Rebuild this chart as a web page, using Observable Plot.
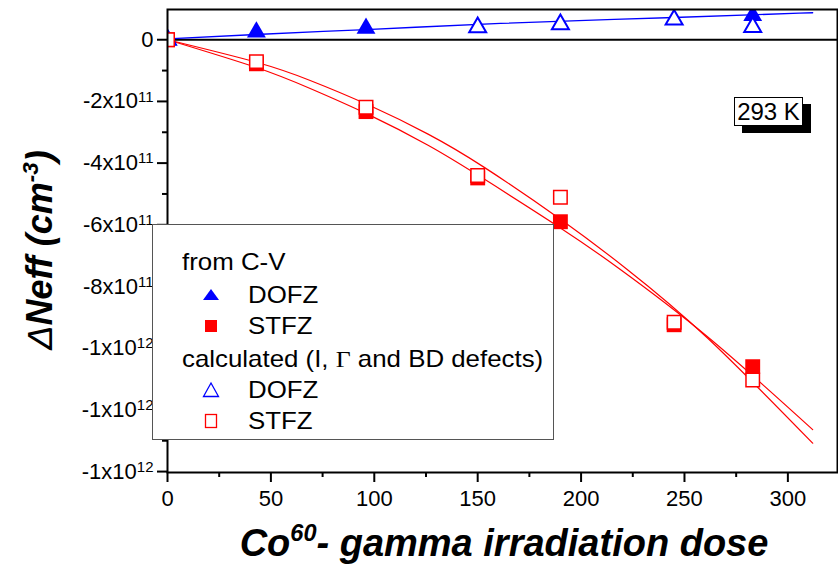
<!DOCTYPE html>
<html><head><meta charset="utf-8">
<script src="https://cdn.jsdelivr.net/npm/d3@7"></script>
<script src="https://cdn.jsdelivr.net/npm/@observablehq/plot@0.6"></script>
<style>
body{margin:0;background:#fff;font-family:Arial,"Liberation Sans",sans-serif}
#wrap{position:relative;width:838px;height:564px;overflow:hidden;background:#fff}
.ov{position:absolute;white-space:nowrap;line-height:1;color:#000;font-family:Arial,"Liberation Sans",sans-serif}
.title{font-weight:bold;font-style:italic}
.title sup{font-size:0.62em;vertical-align:0.62em;line-height:0}
#legend{position:absolute;left:152px;top:224px;width:400px;height:214px;border:1.5px solid #555;background:#fff}
#legend .t{position:absolute;font-size:24px;line-height:1;white-space:nowrap;transform:scaleX(1.077);transform-origin:0 50%}
#legend svg{position:absolute;overflow:visible}
</style></head><body><div id="wrap"></div>
<script>
// ---- data (ΔNeff in cm^-3, dose) ----
const doseCV_DOFZ = [0, 43, 96, 283];
const neffCV_DOFZ = [0, 0.25e11, 0.37e11, 0.78e11];
const doseCalc_DOFZ = [0, 150, 190, 245, 283];
const neffCalc_DOFZ = [0, 0.40e11, 0.50e11, 0.65e11, 0.41e11];
const doseCV_STFZ = [0, 43, 96, 150, 190, 245, 283];
const neffCV_STFZ = [0, -0.78e11, -2.33e11, -4.48e11, -5.90e11, -9.24e11, -10.6e11];
const doseCalc_STFZ = [0, 43, 96, 150, 190, 245, 283];
const neffCalc_STFZ = [0, -0.71e11, -2.19e11, -4.40e11, -5.11e11, -9.16e11, -11.03e11];
// fitted curves
const fitDoseDOFZ = [0, 43, 96, 161, 245, 312];
const fitNeffDOFZ = [0.03e11, 0.17e11, 0.33e11, 0.53e11, 0.72e11, 0.875e11];
const fitDoseA = [0, 43, 69, 97, 126, 153, 190, 222, 261, 312];
const fitNeffA = [0, -0.73e11, -1.32e11, -2.11e11, -3.06e11, -4.13e11, -5.82e11, -7.43e11, -9.66e11, -13.08e11];
const fitDoseB = [0, 43, 69, 97, 126, 152, 190, 218, 261, 312];
const fitNeffB = [0, -0.90e11, -1.58e11, -2.42e11, -3.42e11, -4.47e11, -6.10e11, -7.40e11, -9.62e11, -12.64e11];
// ticks
const xMajor = [0, 50, 100, 150, 200, 250, 300];
const xMinor = [25, 75, 125, 175, 225, 275];
const yMajor = [0, -2e11, -4e11, -6e11, -8e11, -10e11, -12e11, -14e11];
const yLabelBase = ["0", "-2x10", "-4x10", "-6x10", "-8x10", "-1x10", "-1x10", "-1x10"];
const yLabelExp = ["", "11", "11", "11", "11", "12", "12", "12"];
const yMinor = [-1e11, -3e11, -5e11, -7e11, -9e11, -11e11, -13e11];

const pts = (xs, ys) => xs.map((x, i) => ({x, y: ys[i]}));
const yIndex = new Map(yMajor.map((v, i) => [v, i]));
const BLUE = "#0000ff", RED = "#ff0000";

const plot = Plot.plot({
  width: 838, height: 564,
  marginLeft: 167, marginRight: 1, marginTop: 9, marginBottom: 92,
  style: {fontFamily: "Arial, 'Liberation Sans', sans-serif", fontSize: "22px", color: "#000", background: "#fff"},
  x: {domain: [0, 324]},
  y: {domain: [-14.03e11, 0.98e11]},
  marks: [
    Plot.ruleY([0], {stroke: "#000", strokeWidth: 2}),
    Plot.line(pts(fitDoseDOFZ, fitNeffDOFZ), {x: "x", y: "y", stroke: BLUE, strokeWidth: 1.3, curve: "monotone-x", clip: true}),
    Plot.line(pts(fitDoseA, fitNeffA), {x: "x", y: "y", stroke: RED, strokeWidth: 1.2, curve: "natural", clip: true}),
    Plot.line(pts(fitDoseB, fitNeffB), {x: "x", y: "y", stroke: RED, strokeWidth: 1.2, curve: "natural", clip: true}),
    Plot.dot(pts(doseCV_DOFZ, neffCV_DOFZ), {x: "x", y: "y", symbol: "triangle", fill: BLUE, r: 7, clip: true}),
    Plot.dot(pts(doseCV_STFZ, neffCV_STFZ), {x: "x", y: "y", symbol: "square", fill: RED, r: 8.4, clip: true}),
    Plot.dot(pts(doseCalc_DOFZ, neffCalc_DOFZ), {x: "x", y: "y", symbol: "triangle", fill: "#fff", stroke: BLUE, strokeWidth: 2, r: 6.3, clip: true}),
    Plot.dot(pts(doseCalc_STFZ, neffCalc_STFZ), {x: "x", y: "y", symbol: "square", fill: "#fff", stroke: RED, strokeWidth: 1.5, r: 7.6, clip: true}),
    Plot.frame({stroke: "#000", strokeWidth: 2}),
    Plot.axisX({ticks: xMajor, tickSize: 10, tickPadding: 8, strokeWidth: 2, tickFormat: d => String(d), label: null}),
    Plot.axisX({ticks: xMinor, tickSize: 5, strokeWidth: 2, tickFormat: () => "", label: null}),
    Plot.axisY({ticks: yMajor, tickSize: 10, tickPadding: 4, strokeWidth: 2, tickFormat: d => { const i = yIndex.get(d); return yLabelBase[i] + "|" + yLabelExp[i]; }, label: null}),
    Plot.axisY({ticks: yMinor, tickSize: 5, strokeWidth: 2, tickFormat: () => "", label: null})
  ]
});
const wrap = document.getElementById("wrap");
wrap.appendChild(plot);

// turn "base|exp" tick labels into base + superscript tspan
d3.select(plot).selectAll("text").each(function () {
  const s = this.textContent;
  if (!s.includes("|")) return;
  const [base, exp] = s.split("|");
  const el = d3.select(this);
  el.text(base);
  if (exp) el.append("tspan").attr("dy", "-0.45em").style("font-size", "15px").text(exp);
});

// axis titles
const yt = document.createElement("div");
yt.className = "ov title";
yt.style.cssText = "left:40px;top:250px;font-size:36px;transform:translate(-50%,-50%) rotate(-90deg)";
yt.innerHTML = '<span style="font-weight:normal">Δ</span>Neff (cm<sup>-3</sup>)';
wrap.appendChild(yt);

const xt = document.createElement("div");
xt.className = "ov title";
xt.style.cssText = "left:504px;top:524px;font-size:38px;transform:translateX(-50%)";
xt.innerHTML = 'Co<sup>60</sup>- gamma irradiation dose';
wrap.appendChild(xt);

// 293 K label with shadow
const sh = document.createElement("div");
sh.className = "ov";
sh.style.cssText = "left:742px;top:104px;width:69px;height:29px;background:#000";
wrap.appendChild(sh);
const kb = document.createElement("div");
kb.className = "ov";
kb.style.cssText = "left:734px;top:97px;width:67px;height:27px;background:#fff;border:1px solid #000;font-size:24px;text-align:center;line-height:27px";
kb.textContent = "293 K";
wrap.appendChild(kb);

// legend
const legendRows = [
  {text: "from C-V", x: 29, base: 45},
  {text: "DOFZ", x: 95, base: 78, sym: "triFill"},
  {text: "STFZ", x: 95, base: 109, sym: "sqFill"},
  {text: 'calculated (I, <span style="font-family:\'Liberation Serif\',\'Times New Roman\',serif">Γ</span> and BD defects)', x: 29, base: 142},
  {text: "DOFZ", x: 95, base: 173, sym: "triOpen"},
  {text: "STFZ", x: 95, base: 204, sym: "sqOpen"}
];
const lg = document.createElement("div");
lg.id = "legend";
for (const r of legendRows) {
  const t = document.createElement("div");
  t.className = "t";
  t.style.left = r.x + "px";
  t.style.top = (r.base - 24 * 0.8465) + "px";
  t.innerHTML = r.text;
  lg.appendChild(t);
  if (r.sym) {
    const cx = 58, cy = r.base - 8;
    let shape = "";
    if (r.sym === "triFill") shape = `<polygon points="${cx-8},${cy+5} ${cx+8},${cy+5} ${cx},${cy-6}" fill="${BLUE}"/>`;
    if (r.sym === "sqFill") shape = `<rect x="${cx-6}" y="${cy-6}" width="12" height="12" fill="${RED}"/>`;
    if (r.sym === "triOpen") shape = `<polygon points="${cx-7.5},${cy+6.5} ${cx+7.5},${cy+6.5} ${cx},${cy-7}" fill="none" stroke="${BLUE}" stroke-width="1.3"/>`;
    if (r.sym === "sqOpen") shape = `<rect x="${cx-5.5}" y="${cy-6.5}" width="11" height="13" fill="none" stroke="${RED}" stroke-width="1.3"/>`;
    const s = document.createElementNS("http://www.w3.org/2000/svg", "svg");
    s.setAttribute("width", "1"); s.setAttribute("height", "1");
    s.style.left = "0px"; s.style.top = "0px";
    s.innerHTML = shape;
    lg.appendChild(s);
  }
}
wrap.appendChild(lg);
</script></body></html>
